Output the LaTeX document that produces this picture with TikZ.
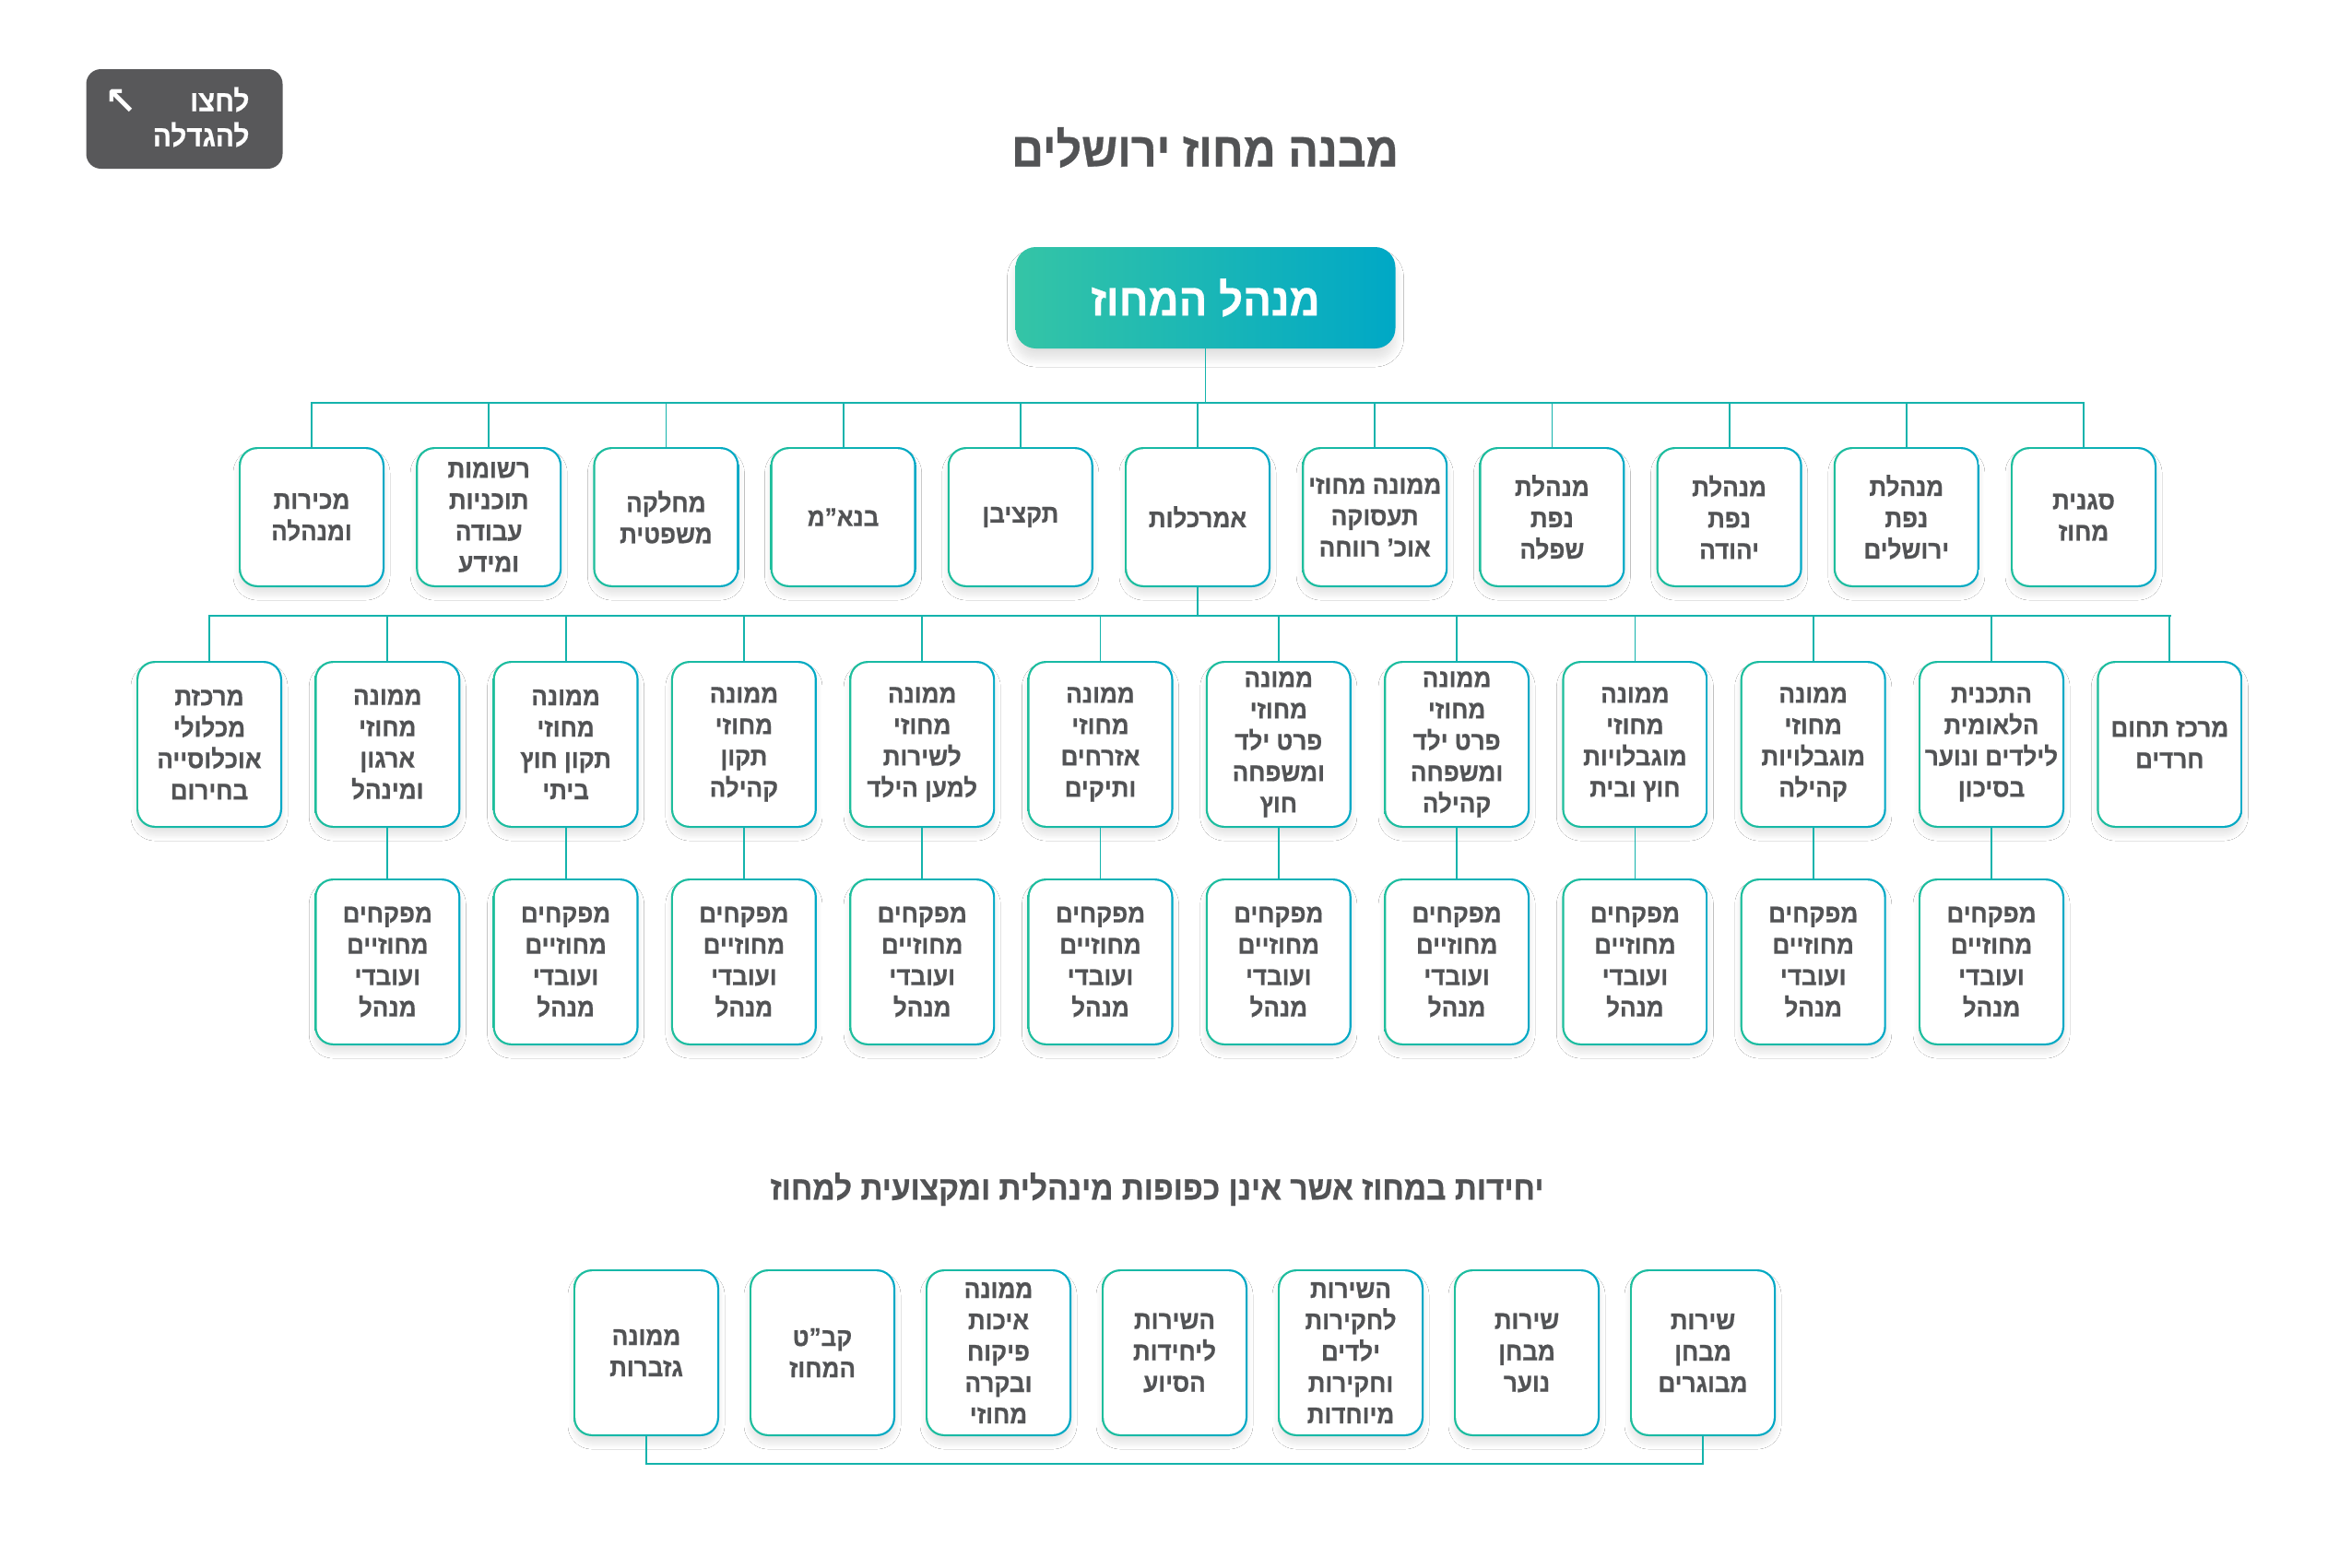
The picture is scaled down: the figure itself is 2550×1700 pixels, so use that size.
\documentclass[tikz,border=0pt]{standalone}
\usepackage{fontspec}
\usetikzlibrary{shadows.blur}
\TeXXeTstate=1
\newfontfamily\hebfont[Script=Hebrew,FakeStretch=0.93,BoldFeatures={FakeBold=0.6}]{Liberation Sans}
\newfontfamily\symfont{DejaVu Sans}
\newcommand\hl[1]{\beginR#1\endR}
\definecolor{cG}{HTML}{1EBE9C}
\definecolor{cB}{HTML}{00A8C6}
\definecolor{cM}{HTML}{03B4A8}
\definecolor{lineC}{HTML}{14B3AC}
\definecolor{txtC}{HTML}{525355}
\definecolor{btnC}{HTML}{58585A}
\tikzset{
  boxbase/.style={rounded corners=20pt, minimum width=158pt, inner sep=0pt,
    left color=cG, right color=cB, draw=none,
    blur shadow={shadow xshift=0pt, shadow yshift=-8pt, shadow blur radius=6pt, shadow blur steps=16, shadow opacity=10},
    path picture={\fill[white, rounded corners=18pt]
      ([xshift=2.2pt,yshift=-2.2pt]path picture bounding box.north west) rectangle
      ([xshift=-2.2pt,yshift=2.2pt]path picture bounding box.south east);},
    align=center, text=txtC, font=\hebfont\bfseries\fontsize{28}{34}\selectfont},
  boxa/.style={boxbase, minimum height=152pt},
  boxb/.style={boxbase, minimum height=181pt},
  mainbox/.style={rounded corners=22pt, minimum width=412pt, minimum height=110pt,
    left color=cG!90!white, middle color=cM, right color=cB, draw=none,
    blur shadow={shadow xshift=0pt, shadow yshift=-11pt, shadow blur radius=9pt, shadow blur steps=16, shadow opacity=12},
    text=white, font=\hebfont\bfseries\fontsize{49}{53}\selectfont},
  conn/.style={draw=lineC, line width=1.8pt},
  bar/.style={draw=lineC, line width=2.6pt, line cap=rect},
}
\begin{document}
\begin{tikzpicture}[x=1pt,y=-1pt]
\fill[white] (0,0) rectangle (2550,1700);
\useasboundingbox (0,0) rectangle (2550,1700);

% button
\node[fill=btnC, rounded corners=16pt, minimum width=213pt, minimum height=108pt] (btn) at (200,129) {};
\node[text=white, align=right, anchor=east, font=\hebfont\bfseries\fontsize{32}{38}\selectfont] (btntxt) at (274,127) {\hl{לחצו}\\\hl{להגדלה}};
\node[text=white, font=\symfont\bfseries\fontsize{42}{42}\selectfont] (arrow) at (131,111) {↖};

% title
\node[text=txtC, font=\hebfont\bfseries\fontsize{52}{56}\selectfont] (title) at (1307,160) {\hl{מבנה מחוז ירושלים}};

% main
\node[mainbox] (main) at (1307.5,323) {\hl{מנהל המחוז}};

% row 1
\foreach \i/\t in {
 0/{\hl{מכירות}\\\hl{ומנהלה}},
 1/{\hl{רשומות}\\\hl{תוכניות}\\\hl{עבודה}\\\hl{ומידע}},
 2/{\hl{מחלקה}\\\hl{משפטית}},
 3/{\hl{בנא”מ}},
 4/{\hl{תקציבן}},
 5/{\hl{אמרכלות}},
 6/{\hl{ממונה מחוזי}\\\hl{תעסוקה}\\\hl{אוכ’ רווחה}},
 7/{\hl{מנהלת}\\\hl{נפת}\\\hl{שפלה}},
 8/{\hl{מנהלת}\\\hl{נפת}\\\hl{יהודה}},
 9/{\hl{מנהלת}\\\hl{נפת}\\\hl{ירושלים}},
 10/{\hl{סגנית}\\\hl{מחוז}}}
 \node[boxa] (r1-\i) at ({338+192.2*\i},561) {\t};

% row 2
\foreach \i/\t in {
 0/{\hl{מרכזת}\\\hl{מכלולי}\\\hl{אוכלוסייה}\\\hl{בחירום}},
 1/{\hl{ממונה}\\\hl{מחוזי}\\\hl{ארגון}\\\hl{ומינהל}},
 2/{\hl{ממונה}\\\hl{מחוזי}\\\hl{תקון חוץ}\\\hl{ביתי}},
 3/{\hl{ממונה}\\\hl{מחוזי}\\\hl{תקון}\\\hl{קהילה}},
 4/{\hl{ממונה}\\\hl{מחוזי}\\\hl{לשירות}\\\hl{למען הילד}},
 5/{\hl{ממונה}\\\hl{מחוזי}\\\hl{אזרחים}\\\hl{ותיקים}},
 6/{\hl{ממונה}\\\hl{מחוזי}\\\hl{פרט ילד}\\\hl{ומשפחה}\\\hl{חוץ}},
 7/{\hl{ממונה}\\\hl{מחוזי}\\\hl{פרט ילד}\\\hl{ומשפחה}\\\hl{קהילה}},
 8/{\hl{ממונה}\\\hl{מחוזי}\\\hl{מוגבלויות}\\\hl{חוץ ובית}},
 9/{\hl{ממונה}\\\hl{מחוזי}\\\hl{מוגבלויות}\\\hl{קהילה}},
 10/{\hl{התכנית}\\\hl{הלאומית}\\\hl{לילדים ונוער}\\\hl{בסיכון}},
 11/{\hl{מרכז תחום}\\\hl{חרדים}}}
 \node[boxb] (r2-\i) at ({227+193.3*\i},807.5) {\t};

% row 3
\foreach \i in {1,...,10}
 \node[boxb] (r3-\i) at ({227+193.3*\i},1043.5) {\hl{מפקחים}\\\hl{מחוזיים}\\\hl{ועובדי}\\\hl{מנהל}};

% section title
\node[text=txtC, font=\hebfont\bfseries\fontsize{36}{40}\selectfont] (sect) at (1255,1290) {\hl{יחידות במחוז אשר אינן כפופות מינהלית ומקצועית למחוז}};

% bottom row
\foreach \i/\t in {
 0/{\hl{ממונה}\\\hl{גזברות}},
 1/{\hl{קב”ט}\\\hl{המחוז}},
 2/{\hl{ממונה}\\\hl{איכות}\\\hl{פיקוח}\\\hl{ובקרה}\\\hl{מחוזי}},
 3/{\hl{השירות}\\\hl{ליחידות}\\\hl{הסיוע}},
 4/{\hl{השירות}\\\hl{לחקירות}\\\hl{ילדים}\\\hl{וחקירות}\\\hl{מיוחדות}},
 5/{\hl{שירות}\\\hl{מבחן}\\\hl{נוער}},
 6/{\hl{שירות}\\\hl{מבחן}\\\hl{מבוגרים}}}
 \node[boxb] (bt-\i) at ({701+191*\i},1467.5) {\t};

% connectors
\coordinate (b1) at (1307.5,437);
\draw[conn] (main.south) -- (b1);
\draw[bar] (r1-0.north |- b1) -- (r1-10.north |- b1);
\foreach \i in {0,...,10} \draw[conn] (r1-\i.north |- b1) -- (r1-\i.north);

\coordinate (b2) at (1299,668);
\draw[conn] (r1-5.south) -- (r1-5.south |- b2);
\draw[bar] (r2-0.north |- b2) -- (r2-11.north |- b2);
\foreach \i in {0,...,11} \draw[conn] (r2-\i.north |- b2) -- (r2-\i.north);

\foreach \i in {1,...,10} \draw[conn] (r2-\i.south) -- (r3-\i.north);

\coordinate (b3) at (1270,1588);
\draw[bar, line cap=butt] (bt-0.south) -- (bt-0.south |- b3) -- (bt-6.south |- b3) -- (bt-6.south);
\end{tikzpicture}
\end{document}
